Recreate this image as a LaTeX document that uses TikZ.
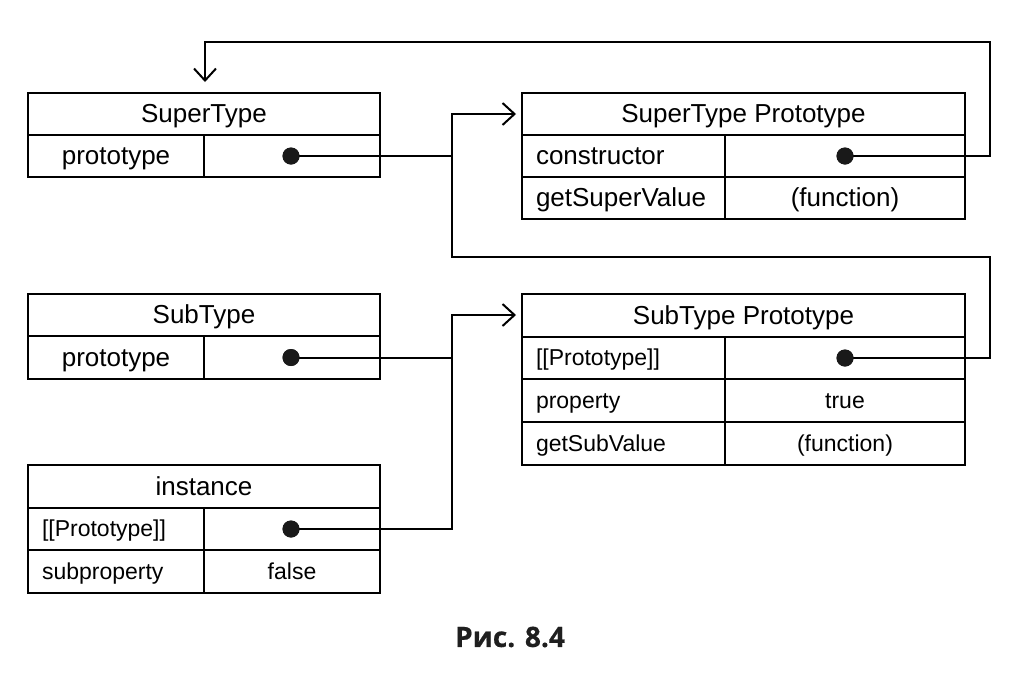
\documentclass[tikz,border=0pt]{standalone}
\usepackage{fontspec}
\setmainfont{Liberation Sans}
\newfontfamily\capfont{Open Sans}[BoldFeatures={FakeBold=0.6}]
\usetikzlibrary{arrows.meta}
\begin{document}
\begin{tikzpicture}[x=1pt,y=-1pt,
  cell/.style={draw, line width=1.6pt, inner sep=0pt, text height=18.6pt, text depth=1.4pt, font=\fontsize{26}{28}\selectfont},
  small/.style={font=\fontsize{23}{25}\selectfont, text height=16.5pt, text depth=1.2pt},
  lcell/.style={cell, align=left, inner xsep=14pt},
  dotn/.style={circle, fill=black!90, inner sep=0pt, minimum size=17pt},
  conn/.style={line width=2pt},
  arr/.style={conn, -{Straight Barb[length=12pt,width=22pt,line width=2pt]}}]
\useasboundingbox (0,0) rectangle (1017,681);
% SuperType
\node[cell, minimum width=352, minimum height=42] (st) at (204,114) {SuperType};
\node[cell, minimum width=176, minimum height=42] (st1) at (116,156) {prototype};
\node[cell, minimum width=176, minimum height=42] (st2) at (292,156) {};
\node[dotn] (stdot) at (291,156) {};
% SuperType Prototype
\node[cell, minimum width=443, minimum height=42] (stp) at (743.5,114) {SuperType Prototype};
\node[lcell, text width=175, minimum height=42] (stp1l) at (623.5,156) {constructor};
\node[cell, minimum width=240, minimum height=42] (stp1r) at (845,156) {};
\node[lcell, text width=175, minimum height=42] (stp2l) at (623.5,198) {getSuperValue};
\node[cell, minimum width=240, minimum height=42] (stp2r) at (845,198) {(function)};
\node[dotn] (stpdot) at (845,156) {};
% SubType
\node[cell, minimum width=352, minimum height=42] (sb) at (204,315) {SubType};
\node[cell, minimum width=176, minimum height=43] (sb1) at (116,357.5) {prototype};
\node[cell, minimum width=176, minimum height=43] (sb2) at (292,357.5) {};
\node[dotn] (sbdot) at (291,357.5) {};
% SubType Prototype
\node[cell, minimum width=443, minimum height=43] (sp) at (743.5,315.5) {SubType Prototype};
\node[lcell, small, text width=175, minimum height=42] (sp1l) at (623.5,358) {[[Prototype]]};
\node[cell, minimum width=240, minimum height=42] (sp1r) at (845,358) {};
\node[lcell, small, text width=175, minimum height=43] (sp2l) at (623.5,400.5) {property};
\node[cell, small, minimum width=240, minimum height=43] (sp2r) at (845,400.5) {true};
\node[lcell, small, text width=175, minimum height=43] (sp3l) at (623.5,443.5) {getSubValue};
\node[cell, small, minimum width=240, minimum height=43] (sp3r) at (845,443.5) {(function)};
\node[dotn] (spdot) at (845,358) {};
% instance
\node[cell, minimum width=352, minimum height=43] (in) at (204,486.5) {instance};
\node[lcell, small, text width=148, minimum height=42] (in1l) at (116,529) {[[Prototype]]};
\node[cell, minimum width=176, minimum height=42] (in1r) at (292,529) {};
\node[lcell, small, text width=148, minimum height=43] (in2l) at (116,571.5) {subproperty};
\node[cell, small, minimum width=176, minimum height=43] (in2r) at (292,571.5) {false};
\node[dotn] (indot) at (291,529) {};
% coordinates
\coordinate (stin) at (205,82);
\coordinate (stpin) at (516,114);
\coordinate (spin) at (516,315);
% connectors
\draw[conn] (stdot.center) -- (452,156);
\draw[arr] (spdot.center) -- (990,358) -- (990,257) -- (452,257) -- (452,114) -- (stpin);
\draw[arr] (stpdot.center) -- (990,156) -- (990,42) -- (205,42) -- (stin);
\draw[arr] (sbdot.center) -- (452,357.5) -- (452,315) -- (spin);
\draw[conn] (indot.center) -- (452,529) -- (452,357.5);
\node[dotn] at (stdot) {};
\node[dotn] at (stpdot) {};
\node[dotn] at (sbdot) {};
\node[dotn] at (spdot) {};
\node[dotn] at (indot) {};
% caption
\node[font=\capfont\bfseries\fontsize{28}{30}\selectfont, text=black!88] (cap) at (510,637) {Рис. 8.4};
\end{tikzpicture}
\end{document}
